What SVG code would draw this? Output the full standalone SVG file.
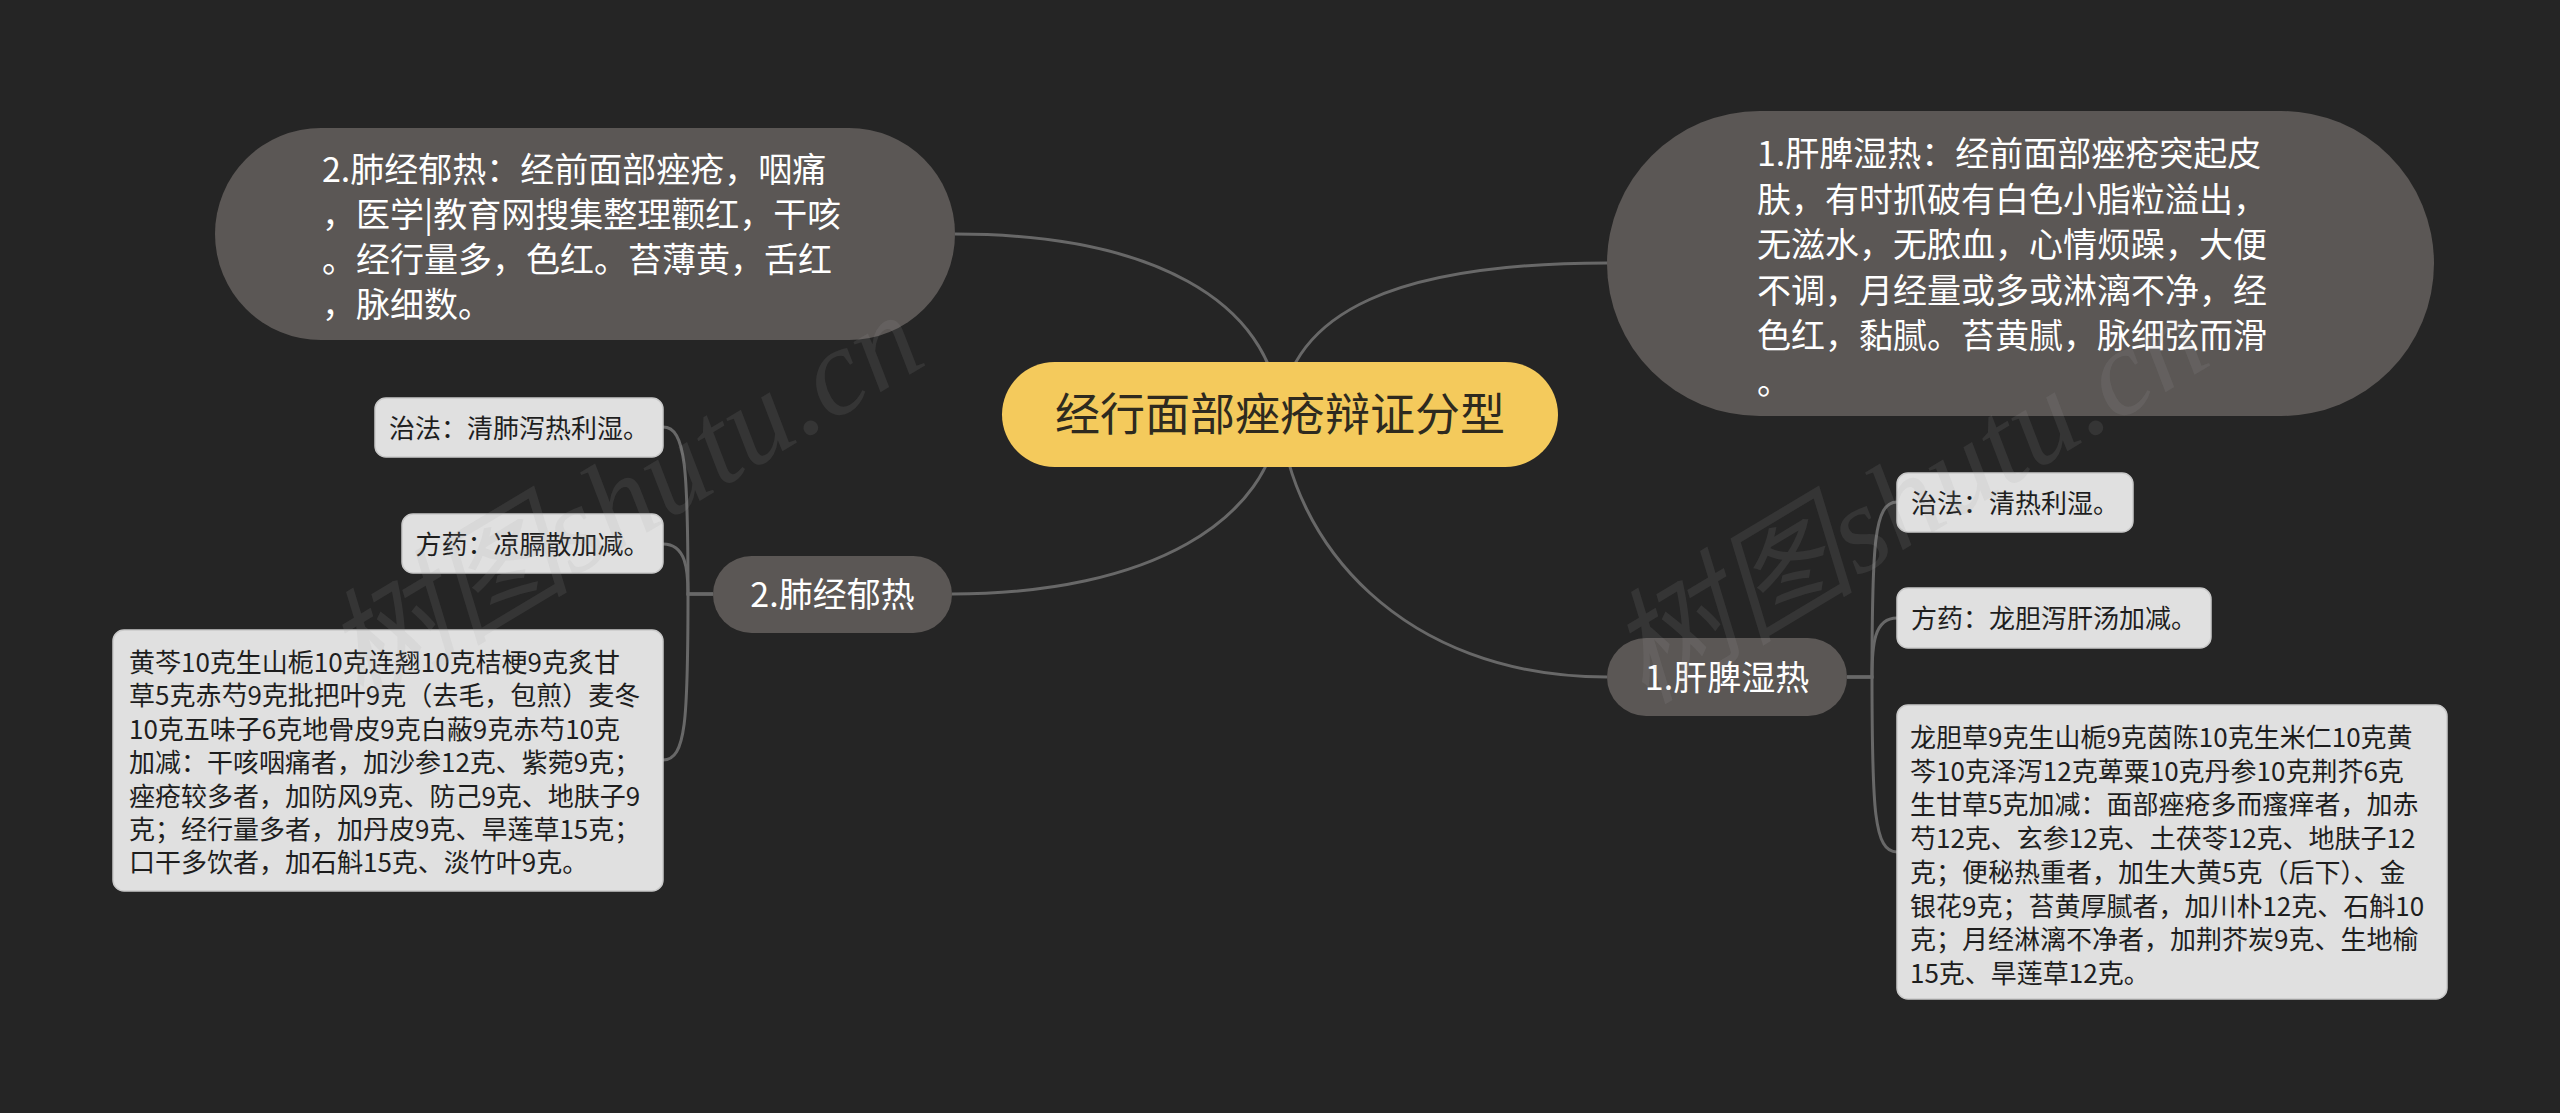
<svg xmlns="http://www.w3.org/2000/svg" width="2560" height="1113" viewBox="0 0 2560 1113">
<style>
.bg{fill:#252525}
.conn path{fill:none;stroke:#686868;stroke-width:3}
.root{fill:#F4CA5C}
.rootText{font-family:"Noto Sans CJK SC","Noto Sans",sans-serif;font-size:45px;fill:#2e2a1f}
.bubble{fill:#5b5755}
.wt{font-family:"Noto Sans CJK SC","Noto Sans",sans-serif;font-size:34px;fill:#ffffff}
.leaf{fill:#e0e0e0;stroke:#c9c9c9;stroke-width:1.5}
.lt{font-family:"Noto Sans CJK SC","Noto Sans",sans-serif;font-size:26px;fill:#1e1e1e}
.wm{font-family:"Liberation Serif","Noto Sans CJK SC",serif;font-size:124px;font-style:italic;fill:#a0a0a0;fill-opacity:0.13}
</style>
<rect class="bg" x="0" y="0" width="2560" height="1113"/>
<g id="connectors" class="conn">
<path d="M1280 414 C1272 300 1150 234 955 234"/>
<path d="M1280 414 C1290 310 1400 263 1607 263"/>
<path d="M1280 414 C1272 520 1150 594 952 594"/>
<path d="M1280 414 C1290 540 1400 677 1607 677"/>
<path d="M713 594 H688 C688 470 686 427 663 427"/>
<path d="M713 594 H688 C688 570 686 544 663 544"/>
<path d="M713 594 H688 C688 720 686 760 663 760"/>
<path d="M1847 677 H1872 C1872 545 1874 502 1897 502"/>
<path d="M1847 677 H1872 C1872 645 1874 618 1897 618"/>
<path d="M1847 677 H1872 C1872 810 1874 852 1897 852"/>
</g>
<g id="root">
<rect class="root" x="1002" y="362" width="556" height="105" rx="52.5"/>
<text class="rootText" x="1280" y="431" text-anchor="middle">经行面部痤疮辩证分型</text>
</g>
<g id="n2-detail">
<rect class="bubble" x="215" y="128" width="740" height="212" rx="106"/>
<text class="wt" x="322" y="182">2.肺经郁热：经前面部痤疮，咽痛</text>
<text class="wt" x="322" y="227">，医学|教育网搜集整理颧红，干咳</text>
<text class="wt" x="322" y="272">。经行量多，色红。苔薄黄，舌红</text>
<text class="wt" x="322" y="317">，脉细数。</text>
</g>
<g id="n1-detail">
<rect class="bubble" x="1607" y="111" width="827" height="305" rx="152.5"/>
<text class="wt" x="1757" y="166">1.肝脾湿热：经前面部痤疮突起皮</text>
<text class="wt" x="1757" y="211.5">肤，有时抓破有白色小脂粒溢出，</text>
<text class="wt" x="1757" y="257">无滋水，无脓血，心情烦躁，大便</text>
<text class="wt" x="1757" y="302.5">不调，月经量或多或淋漓不净，经</text>
<text class="wt" x="1757" y="348">色红，黏腻。苔黄腻，脉细弦而滑</text>
<text class="wt" x="1757" y="393.5">。</text>
</g>
<g id="n2">
<rect class="bubble" x="713" y="556" width="239" height="77" rx="38.5"/>
<text class="wt" x="832.5" y="607" text-anchor="middle">2.肺经郁热</text>
</g>
<g id="n1">
<rect class="bubble" x="1607" y="638" width="240" height="78" rx="39"/>
<text class="wt" x="1727" y="690" text-anchor="middle">1.肝脾湿热</text>
</g>
<g id="n2-zhifa">
<rect class="leaf" x="375" y="398" width="288" height="59" rx="11"/>
<text class="lt" x="519" y="437.5" text-anchor="middle">治法：清肺泻热利湿。</text>
</g>
<g id="n2-fangyao">
<rect class="leaf" x="402" y="514" width="261" height="59" rx="11"/>
<text class="lt" x="532.5" y="553.5" text-anchor="middle">方药：凉膈散加减。</text>
</g>
<g id="n2-recipe">
<rect class="leaf" x="113" y="630" width="550" height="261" rx="11"/>
<text class="lt" x="129" y="672">黄芩10克生山栀10克连翘10克桔梗9克炙甘</text>
<text class="lt" x="129" y="705.4">草5克赤芍9克批把叶9克（去毛，包煎）麦冬</text>
<text class="lt" x="129" y="738.8">10克五味子6克地骨皮9克白蔽9克赤芍10克</text>
<text class="lt" x="129" y="772.2">加减：干咳咽痛者，加沙参12克、紫菀9克；</text>
<text class="lt" x="129" y="805.6">痤疮较多者，加防风9克、防己9克、地肤子9</text>
<text class="lt" x="129" y="839">克；经行量多者，加丹皮9克、旱莲草15克；</text>
<text class="lt" x="129" y="872.4">口干多饮者，加石斛15克、淡竹叶9克。</text>
</g>
<g id="n1-zhifa">
<rect class="leaf" x="1897" y="473" width="236" height="59" rx="11"/>
<text class="lt" x="2015" y="512.5" text-anchor="middle">治法：清热利湿。</text>
</g>
<g id="n1-fangyao">
<rect class="leaf" x="1897" y="588" width="314" height="60" rx="11"/>
<text class="lt" x="2054" y="628" text-anchor="middle">方药：龙胆泻肝汤加减。</text>
</g>
<g id="n1-recipe">
<rect class="leaf" x="1897" y="705" width="550" height="294" rx="11"/>
<text class="lt" x="1910" y="747">龙胆草9克生山栀9克茵陈10克生米仁10克黄</text>
<text class="lt" x="1910" y="780.7">芩10克泽泻12克萆粟10克丹参10克荆芥6克</text>
<text class="lt" x="1910" y="814.4">生甘草5克加减：面部痤疮多而瘙痒者，加赤</text>
<text class="lt" x="1910" y="848.1">芍12克、玄参12克、土茯苓12克、地肤子12</text>
<text class="lt" x="1910" y="881.8">克；便秘热重者，加生大黄5克（后下）、金</text>
<text class="lt" x="1910" y="915.5">银花9克；苔黄厚腻者，加川朴12克、石斛10</text>
<text class="lt" x="1910" y="949.2">克；月经淋漓不净者，加荆芥炭9克、生地榆</text>
<text class="lt" x="1910" y="982.9">15克、旱莲草12克。</text>
</g>
<g id="watermark">
<text class="wm" x="360" y="705" transform="rotate(-31 360 705)">树图shutu.cn</text>
<text class="wm" x="1645" y="705" transform="rotate(-31 1645 705)">树图shutu.cn</text>
</g>
</svg>
